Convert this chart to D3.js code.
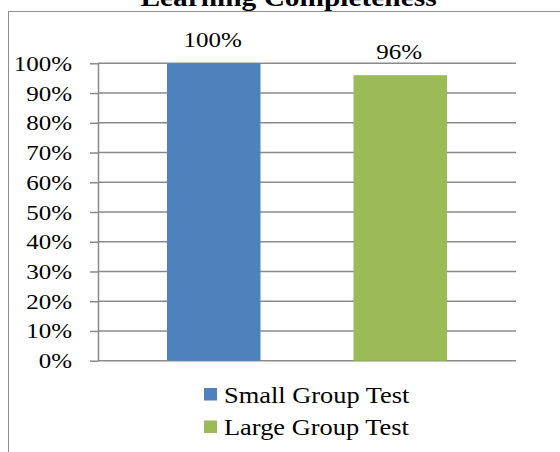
<!DOCTYPE html>
<html>
<head>
<meta charset="utf-8">
<script src="https://cdn.jsdelivr.net/npm/d3@7/dist/d3.min.js"></script>
<style>
  html, body { margin: 0; padding: 0; background: #fff; }
  svg { display: block; }
  text { font-family: "Liberation Serif", "Times New Roman", serif; fill: #000; }
</style>
</head>
<body>
<svg id="chart" width="560" height="452"></svg>
<script>
// Chart data
const categories = ["Small Group Test", "Large Group Test"];
const values = [1.00, 0.96];
const colors = ["#4F81BD", "#9BBB59"];
const yTicks = [0, 0.1, 0.2, 0.3, 0.4, 0.5, 0.6, 0.7, 0.8, 0.9, 1.0];
const title = "Learning Completeness";

const svg = d3.select("#chart");

// Outer chart frame
svg.append("rect")
  .attr("x", 8.5).attr("y", 11.5)
  .attr("width", 600).attr("height", 500)
  .attr("fill", "none")
  .attr("stroke", "#8e8e8e")
  .attr("stroke-width", 1);

// Title
svg.append("text")
  .attr("transform", "translate(288.5,6) scale(1.13,1)")
  .attr("text-anchor", "middle")
  .style("font-size", "26px")
  .style("font-weight", "bold")
  .text(title);

const plot = { left: 98, right: 516, top: 63.3, bottom: 360.7 };

const y = d3.scaleLinear().domain([0, 1]).range([plot.bottom, plot.top]);
const x = d3.scaleBand().domain(categories).range([167, 447]).paddingInner(0.4987).paddingOuter(0);
const pct = d3.format(".0%");

// Horizontal gridlines
svg.append("g")
  .selectAll("line")
  .data(yTicks)
  .join("line")
  .attr("x1", plot.left).attr("x2", plot.right)
  .attr("y1", d => y(d)).attr("y2", d => y(d))
  .attr("stroke", "#8a8a8a")
  .attr("stroke-width", 1.5);

// Y axis with tick marks and percent labels
const yAxis = svg.append("g")
  .attr("transform", `translate(${plot.left},0)`)
  .call(d3.axisLeft(y).tickValues(yTicks).tickFormat(pct).tickSizeInner(8).tickSizeOuter(0).tickPadding(0));
yAxis.select(".domain").attr("stroke", "#8a8a8a").attr("stroke-width", 1.5);
yAxis.selectAll(".tick line").attr("stroke", "#8a8a8a").attr("stroke-width", 1.5);
yAxis.selectAll(".tick text")
  .attr("x", null).attr("dy", null)
  .attr("transform", "translate(-26,7) scale(1.19,1)")
  .style("font-size", "21px")
  .style("font-family", "'Liberation Serif', 'Times New Roman', serif")
  .attr("fill", "#000");

// Bars
svg.append("g")
  .selectAll("rect")
  .data(categories)
  .join("rect")
  .attr("x", d => x(d))
  .attr("width", x.bandwidth())
  .attr("y", (d, i) => y(values[i]))
  .attr("height", (d, i) => y(0) - y(values[i]))
  .attr("fill", (d, i) => colors[i]);

// Value labels above bars
svg.append("g")
  .selectAll("text")
  .data(categories)
  .join("text")
  .attr("transform", (d, i) => `translate(${x(d) + x.bandwidth() / 2 - 1},${y(values[i]) - 16}) scale(1.19,1)`)
  .attr("text-anchor", "middle")
  .style("font-size", "21px")
  .text((d, i) => pct(values[i]));

// Legend
const legend = svg.append("g")
  .selectAll("g")
  .data(categories)
  .join("g")
  .attr("transform", (d, i) => `translate(204,${388 + i * 32.5})`);
legend.append("rect")
  .attr("width", 13).attr("height", 12.5)
  .attr("fill", (d, i) => colors[i]);
legend.append("text")
  .attr("transform", "translate(20,14.5) scale(1.1,1)")
  .style("font-size", "24px")
  .text(d => d);
</script>
</body>
</html>
